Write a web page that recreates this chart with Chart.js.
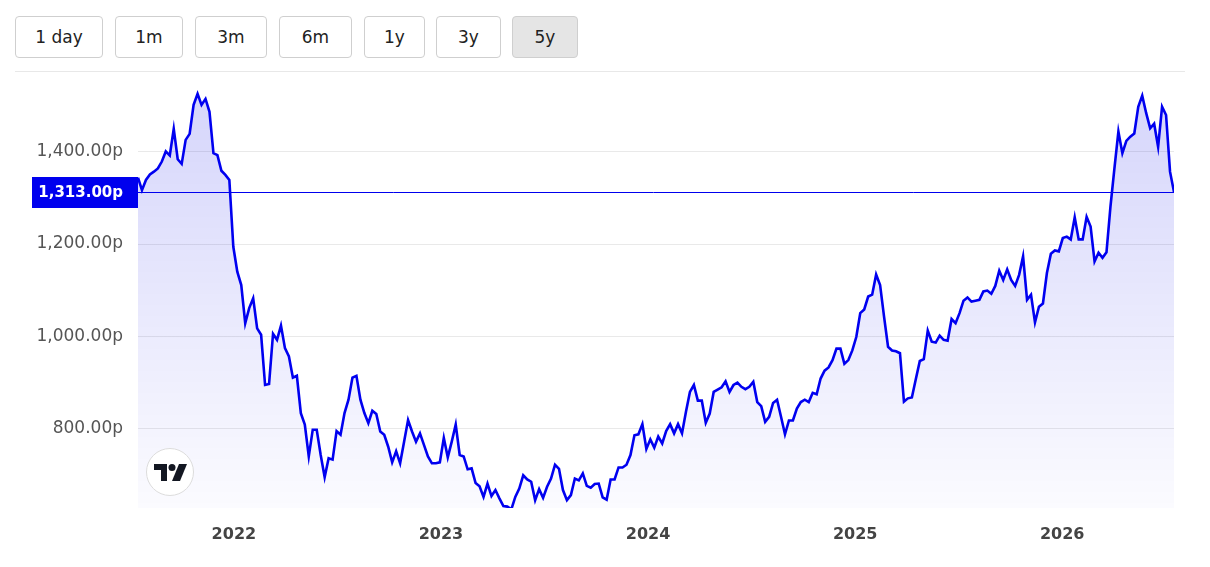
<!DOCTYPE html>
<html>
<head>
<meta charset="utf-8">
<script src="https://cdn.jsdelivr.net/npm/chart.js@4.4.1/dist/chart.umd.min.js"></script>
<style>
  body { margin: 0; background: #fff; font-family: "DejaVu Sans", sans-serif; }
  #page { position: relative; width: 1210px; height: 567px; overflow: hidden; }
  .btn { position: absolute; top: 16px; height: 42px; box-sizing: border-box; border: 1px solid #cfcfcf;
         border-radius: 4px; background: #fff; color: #222; font-size: 17px; line-height: 40px; text-align: center; }
  .btn.on { background: #e5e5e5; }
  #sep { position: absolute; left: 15px; top: 71px; width: 1170px; height: 1px; background: #e8e8e8; }
  #chart { position: absolute; left: 0; top: 80px; }
  #tv { position: absolute; left: 146px; top: 448px; width: 48px; height: 48px; box-sizing: border-box;
        border: 1px solid #dcdcdc; border-radius: 50%; background: #fff; }
  #tv svg { position: absolute; left: 7px; top: 15px; }
</style>
</head>
<body>
<div id="page">
  <div class="btn" style="left:15px;width:88px">1 day</div>
  <div class="btn" style="left:115px;width:68px">1m</div>
  <div class="btn" style="left:195px;width:72px">3m</div>
  <div class="btn" style="left:279px;width:73px">6m</div>
  <div class="btn" style="left:364px;width:61px">1y</div>
  <div class="btn" style="left:436px;width:65px">3y</div>
  <div class="btn on" style="left:512px;width:66px">5y</div>
  <div id="sep"></div>
  <canvas id="chart" width="1190" height="482"></canvas>
  <div id="tv">
    <svg width="33" height="17" viewBox="0 0 33 17">
      <path d="M0 0h13v17H7V6H0z" fill="#131722"/>
      <circle cx="18" cy="3.5" r="3.5" fill="#131722"/>
      <path d="M25 0h8l-7 17h-8z" fill="#131722"/>
    </svg>
  </div>
</div>
<script>
// weekly closing prices (pence)
var prices = [
  1344, 1317, 1339, 1351, 1357, 1364, 1379, 1401, 1392, 1450,
  1384, 1374, 1426, 1439, 1502, 1526, 1502, 1515, 1487, 1397,
  1393, 1359, 1350, 1339, 1194, 1140, 1111, 1028, 1061, 1082,
  1017, 1003, 894, 896, 1005, 992, 1023, 974, 956, 910,
  914, 833, 808, 739, 797, 797, 742, 694, 735, 732,
  794, 786, 833, 862, 910, 914, 862, 833, 811, 838,
  831, 793, 786, 760, 726, 750, 724, 771, 818, 793,
  771, 789, 764, 739, 724, 724, 726, 779, 737, 771,
  808, 742, 739, 711, 713, 681, 674,
  651, 680, 653, 666, 648, 631, 630, 624, 651, 669,
  698, 689, 684, 644, 668, 649, 673, 691, 721, 712,
  666, 644, 655, 691, 687, 702, 675, 671, 679, 680,
  650, 645, 689, 689, 715, 715, 721, 742, 785, 787,
  809, 755, 776, 758, 782, 767, 794, 809, 789, 809,
  789, 836, 879, 894, 860, 860, 812, 832, 879, 884,
  889, 902, 879, 894, 899, 890, 885, 890, 901, 857,
  848, 814, 825, 855, 862, 825, 787, 817, 817, 843,
  857, 862, 857, 877, 874, 908, 925, 932, 948, 973,
  973, 940, 948, 969, 998, 1050,
  1058, 1086, 1090, 1134, 1111, 1042, 977, 969, 967, 963,
  858, 865, 867, 907, 946, 950, 1012, 988, 986, 1001,
  992, 990, 1037, 1028, 1050, 1077, 1084, 1075, 1077, 1079,
  1097, 1099, 1092, 1109, 1142, 1122, 1145, 1122, 1109, 1133,
  1173, 1079, 1090, 1030, 1064, 1071, 1137, 1179, 1186, 1184,
  1213, 1216, 1210, 1258, 1210, 1210, 1259, 1238, 1162, 1181,
  1170, 1182, 1281, 1364, 1444, 1397, 1424, 1433, 1440, 1498,
  1522, 1484, 1451, 1461, 1411, 1498, 1480, 1357, 1313
];
var yearLabels = [2022, 2023, 2024, 2025, 2026];
var priceTicks = [800, 1000, 1200, 1400];
var lastPrice = 1313;
var firstWeek = new Date(2021, 6, 16);

function toYear(d){
    var y = d.getFullYear();
    var start = new Date(y, 0, 1), end = new Date(y + 1, 0, 1);
    return y + (d - start) / (end - start);
}

var points = [];
for (var i = 0; i < prices.length; i++) {
    var d = new Date(firstWeek.getTime() + i * 7 * 86400000);
    points.push({x: toYear(d), y: prices[i]});
}

function fmt(v){
    return v.toLocaleString('en-GB', {minimumFractionDigits: 2, maximumFractionDigits: 2}) + 'p';
}

var priceLine = {
    id: 'priceLine',
    afterDatasetsDraw: function(chart){
        var ctx = chart.ctx;
        var area = chart.chartArea;
        var y = Math.round(chart.scales.y.getPixelForValue(lastPrice)) + 0.5;
        ctx.save();
        ctx.strokeStyle = '#0000ee';
        ctx.lineWidth = 1;
        ctx.beginPath();
        ctx.moveTo(133, y);
        ctx.lineTo(area.right, y);
        ctx.stroke();
        ctx.fillStyle = '#0000ee';
        ctx.fillRect(32, y - 15.5, 106, 31);
        ctx.fillStyle = '#fff';
        ctx.font = 'bold 15px "DejaVu Sans"';
        ctx.textAlign = 'right';
        ctx.textBaseline = 'middle';
        ctx.fillText(fmt(lastPrice), 123, y + 1);
        ctx.restore();
    }
};

new Chart(document.getElementById("chart"), {
    type: 'line',
    data: {
        datasets: [{
            data: points,
            borderColor: '#0000f0',
            borderWidth: 2.6,
            pointRadius: 0,
            tension: 0,
            fill: 'start',
            backgroundColor: function(context){
                var c = context.chart;
                if (!c.chartArea) return 'rgba(0,0,255,0.08)';
                var g = c.ctx.createLinearGradient(0, c.chartArea.top, 0, c.chartArea.bottom);
                g.addColorStop(0, 'rgba(0,0,230,0.17)');
                g.addColorStop(1, 'rgba(0,0,230,0.015)');
                return g;
            }
        }]
    },
    options: {
        responsive: false,
        animation: false,
        layout: { padding: { right: 16 } },
        plugins: { legend: { display: false }, tooltip: { enabled: false } },
        scales: {
            x: {
                type: 'linear',
                min: points[0].x,
                max: points[points.length - 1].x,
                grid: { display: false },
                border: { display: false },
                afterBuildTicks: function(axis){
                    axis.ticks = yearLabels.map(function(v){ return {value: v}; });
                },
                afterFit: function(axis){
                    axis.height = 54;
                    axis.paddingLeft = 0;
                    axis.paddingRight = 0;
                },
                ticks: {
                    autoSkip: false,
                    maxRotation: 0,
                    padding: 9,
                    color: '#444',
                    font: { family: 'DejaVu Sans', size: 16, weight: 'bold' },
                    callback: function(v){ return String(v); }
                }
            },
            y: {
                min: 627,
                max: 1556,
                grid: { color: '#e9e9e9', drawTicks: false },
                border: { display: false },
                afterBuildTicks: function(axis){
                    axis.ticks = priceTicks.map(function(v){ return {value: v}; });
                },
                afterFit: function(axis){
                    axis.width = 138;
                    axis.paddingTop = 0;
                    axis.paddingBottom = 0;
                },
                ticks: {
                    padding: 15,
                    color: '#555',
                    font: { family: 'DejaVu Sans', size: 17 },
                    callback: function(v){ return fmt(v); }
                }
            }
        }
    },
    plugins: [priceLine]
});
</script>
</body>
</html>
